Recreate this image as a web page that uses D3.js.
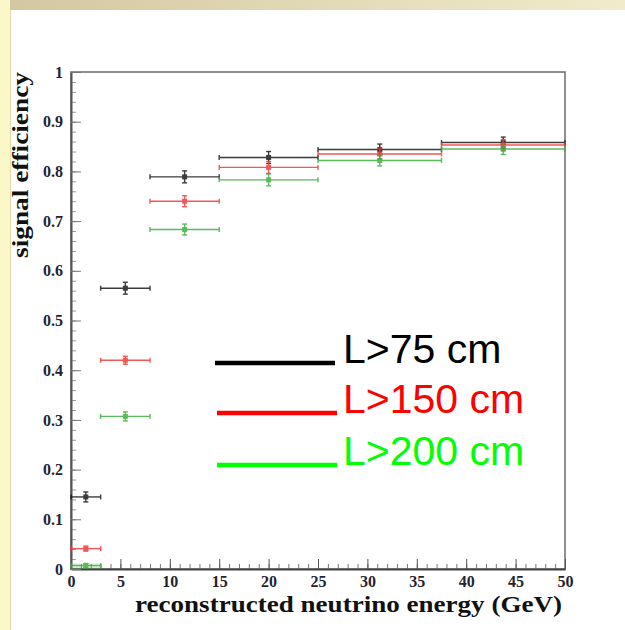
<!DOCTYPE html>
<html>
<head>
<meta charset="utf-8">
<script src="https://cdn.jsdelivr.net/npm/d3@7"></script>
<style>
  html, body { margin: 0; padding: 0; background: #fff; }
  svg { display: block; }
</style>
</head>
<body>
<svg width="625" height="630"></svg>
<script>
// energy bins (GeV)
var binLow  = [0, 3, 8, 15, 25, 37.5];
var binHigh = [3, 8, 15, 25, 37.5, 50];

// signal efficiency per decay-length cut
var effL75  = [0.145, 0.565, 0.789, 0.828, 0.844, 0.858];
var effL150 = [0.041, 0.420, 0.740, 0.808, 0.835, 0.853];
var effL200 = [0.007, 0.307, 0.683, 0.783, 0.822, 0.845];
var errL75  = [0.010, 0.012, 0.012, 0.012, 0.011, 0.011];
var errL150 = [0.005, 0.008, 0.011, 0.012, 0.011, 0.011];
var errL200 = [0.004, 0.009, 0.011, 0.012, 0.011, 0.011];

var seriesNames = ["L>75 cm", "L>150 cm", "L>200 cm"];
var xTicks = [0, 5, 10, 15, 20, 25, 30, 35, 40, 45, 50];
var yTicks = [0, 0.1, 0.2, 0.3, 0.4, 0.5, 0.6, 0.7, 0.8, 0.9, 1];

var markColors   = ["#1a1a1a", "#f23a3a", "#3fae3f"];
var legendColors = ["#000000", "#ff0000", "#00ff00"];

var svg = d3.select("svg");

// slide-like border (top band + left band)
var grad = svg.append("defs").append("linearGradient").attr("id", "topband");
grad.append("stop").attr("offset", "0%").attr("stop-color", "#d2c7a0");
grad.append("stop").attr("offset", "100%").attr("stop-color", "#f1ebcb");
svg.append("rect").attr("x", 0).attr("y", 0).attr("width", 625).attr("height", 10).attr("fill", "url(#topband)");
svg.append("rect").attr("x", 0).attr("y", 0).attr("width", 10).attr("height", 630).attr("fill", "#fcf7c9");
svg.append("line").attr("x1", 10.5).attr("x2", 10.5).attr("y1", 10).attr("y2", 630)
   .attr("stroke", "#e4dcae").attr("stroke-width", 1);

var x = d3.scaleLinear().domain([0, 50]).range([71, 565]);
var y = d3.scaleLinear().domain([0, 1]).range([569, 72]);

// frame
svg.append("rect")
   .attr("x", x(0)).attr("y", y(1))
   .attr("width", x(50) - x(0)).attr("height", y(0) - y(1))
   .attr("fill", "none").attr("stroke", "#6b6b6b").attr("stroke-width", 1.5);

// minor ticks
var xMinor = d3.range(0, 51, 1);
var yMinor = d3.range(0, 1.001, 0.02);

svg.append("g")
   .attr("transform", "translate(0," + y(0) + ")")
   .call(d3.axisBottom(x).tickValues(xMinor).tickSize(-5).tickSizeOuter(0).tickFormat(""))
   .call(function(g) { g.select(".domain").remove(); g.selectAll("line").attr("stroke", "#777"); });
svg.append("g")
   .attr("transform", "translate(" + x(0) + ",0)")
   .call(d3.axisLeft(y).tickValues(yMinor).tickSize(-5).tickSizeOuter(0).tickFormat(""))
   .call(function(g) { g.select(".domain").remove(); g.selectAll("line").attr("stroke", "#999"); });

var tickFont = "Liberation Serif, Times New Roman, serif";

// major ticks + labels
var xAxis = svg.append("g")
   .attr("transform", "translate(0," + y(0) + ")")
   .call(d3.axisBottom(x).tickValues(xTicks).tickSize(-10).tickSizeOuter(0).tickPadding(7)
         .tickFormat(d3.format("d")));
xAxis.select(".domain").attr("stroke", "#444").attr("stroke-width", 2);
xAxis.selectAll("line").attr("stroke", "#555");
xAxis.selectAll("text")
   .attr("font-family", tickFont)
   .attr("font-weight", "bold").attr("font-size", 16).attr("fill", "#1f2430");

var yAxis = svg.append("g")
   .attr("transform", "translate(" + x(0) + ",0)")
   .call(d3.axisLeft(y).tickValues(yTicks).tickSize(-10).tickSizeOuter(0).tickPadding(8)
         .tickFormat(function(d) { return d === 0 || d === 1 ? d3.format("d")(d) : d3.format(".1f")(d); }));
yAxis.select(".domain").attr("stroke", "#555").attr("stroke-width", 2);
yAxis.selectAll("line").attr("stroke", "#777");
yAxis.selectAll("text")
   .attr("font-family", tickFont)
   .attr("font-weight", "bold").attr("font-size", 16).attr("fill", "#1f2430");

// axis titles
svg.append("text")
   .attr("x", 135).attr("y", 612)
   .attr("textLength", 427).attr("lengthAdjust", "spacingAndGlyphs")
   .attr("font-family", tickFont)
   .attr("font-weight", "bold").attr("font-size", 24).attr("fill", "#111")
   .text("reconstructed neutrino energy (GeV)");

svg.append("text")
   .attr("transform", "translate(28,258) rotate(-90)")
   .attr("textLength", 186).attr("lengthAdjust", "spacingAndGlyphs")
   .attr("font-family", tickFont)
   .attr("font-weight", "bold").attr("font-size", 23).attr("fill", "#111")
   .text("signal efficiency");

// data points with error bars
var allEff = [effL75, effL150, effL200];
var allErr = [errL75, errL150, errL200];

allEff.forEach(function(eff, s) {
   var pts = eff.map(function(v, i) {
      return { lo: binLow[i], hi: binHigh[i], c: (binLow[i] + binHigh[i]) / 2, v: v, e: allErr[s][i] };
   });
   var g = svg.append("g").attr("stroke", markColors[s]).attr("fill", markColors[s])
      .attr("stroke-width", 1.4).attr("opacity", 0.85);

   // first green bin shows as a faint box at the bottom
   if (s === 2) {
      g.append("rect")
         .attr("x", x(pts[0].lo)).attr("y", y(pts[0].v + pts[0].e))
         .attr("width", x(pts[0].hi) - x(pts[0].lo))
         .attr("height", y(0) - y(pts[0].v + pts[0].e))
         .attr("fill", markColors[s]).attr("fill-opacity", 0.25).attr("stroke", "none");
   }

   var p = g.selectAll("g.pt").data(pts).enter().append("g").attr("class", "pt");
   p.append("line")
      .attr("x1", function(d) { return x(d.lo); }).attr("x2", function(d) { return x(d.hi); })
      .attr("y1", function(d) { return y(d.v); }).attr("y2", function(d) { return y(d.v); });
   p.append("line")
      .attr("x1", function(d) { return x(d.lo); }).attr("x2", function(d) { return x(d.lo); })
      .attr("y1", function(d) { return y(d.v) - 2.5; }).attr("y2", function(d) { return y(d.v) + 2.5; });
   p.append("line")
      .attr("x1", function(d) { return x(d.hi); }).attr("x2", function(d) { return x(d.hi); })
      .attr("y1", function(d) { return y(d.v) - 2.5; }).attr("y2", function(d) { return y(d.v) + 2.5; });
   p.append("line")
      .attr("x1", function(d) { return x(d.c); }).attr("x2", function(d) { return x(d.c); })
      .attr("y1", function(d) { return y(d.v + d.e); }).attr("y2", function(d) { return y(d.v - d.e); });
   p.append("line")
      .attr("x1", function(d) { return x(d.c) - 2.5; }).attr("x2", function(d) { return x(d.c) + 2.5; })
      .attr("y1", function(d) { return y(d.v + d.e); }).attr("y2", function(d) { return y(d.v + d.e); });
   p.append("line")
      .attr("x1", function(d) { return x(d.c) - 2.5; }).attr("x2", function(d) { return x(d.c) + 2.5; })
      .attr("y1", function(d) { return y(d.v - d.e); }).attr("y2", function(d) { return y(d.v - d.e); });
   p.append("rect")
      .attr("x", function(d) { return x(d.c) - 2.5; }).attr("y", function(d) { return y(d.v) - 2.5; })
      .attr("width", 5).attr("height", 5).attr("stroke", "none");
});

// legend
var legY = [363, 413, 465];
var legLineX = [[215, 335], [217, 337], [217, 337]];
var leg = svg.append("g");
seriesNames.forEach(function(name, i) {
   leg.append("line")
      .attr("x1", legLineX[i][0]).attr("x2", legLineX[i][1])
      .attr("y1", legY[i]).attr("y2", legY[i])
      .attr("stroke", legendColors[i]).attr("stroke-width", 4.5);
   leg.append("text")
      .attr("x", 343).attr("y", legY[i])
      .attr("font-family", "Liberation Sans, Arial, sans-serif")
      .attr("font-size", 41).attr("fill", legendColors[i])
      .text(name);
});
</script>
</body>
</html>
